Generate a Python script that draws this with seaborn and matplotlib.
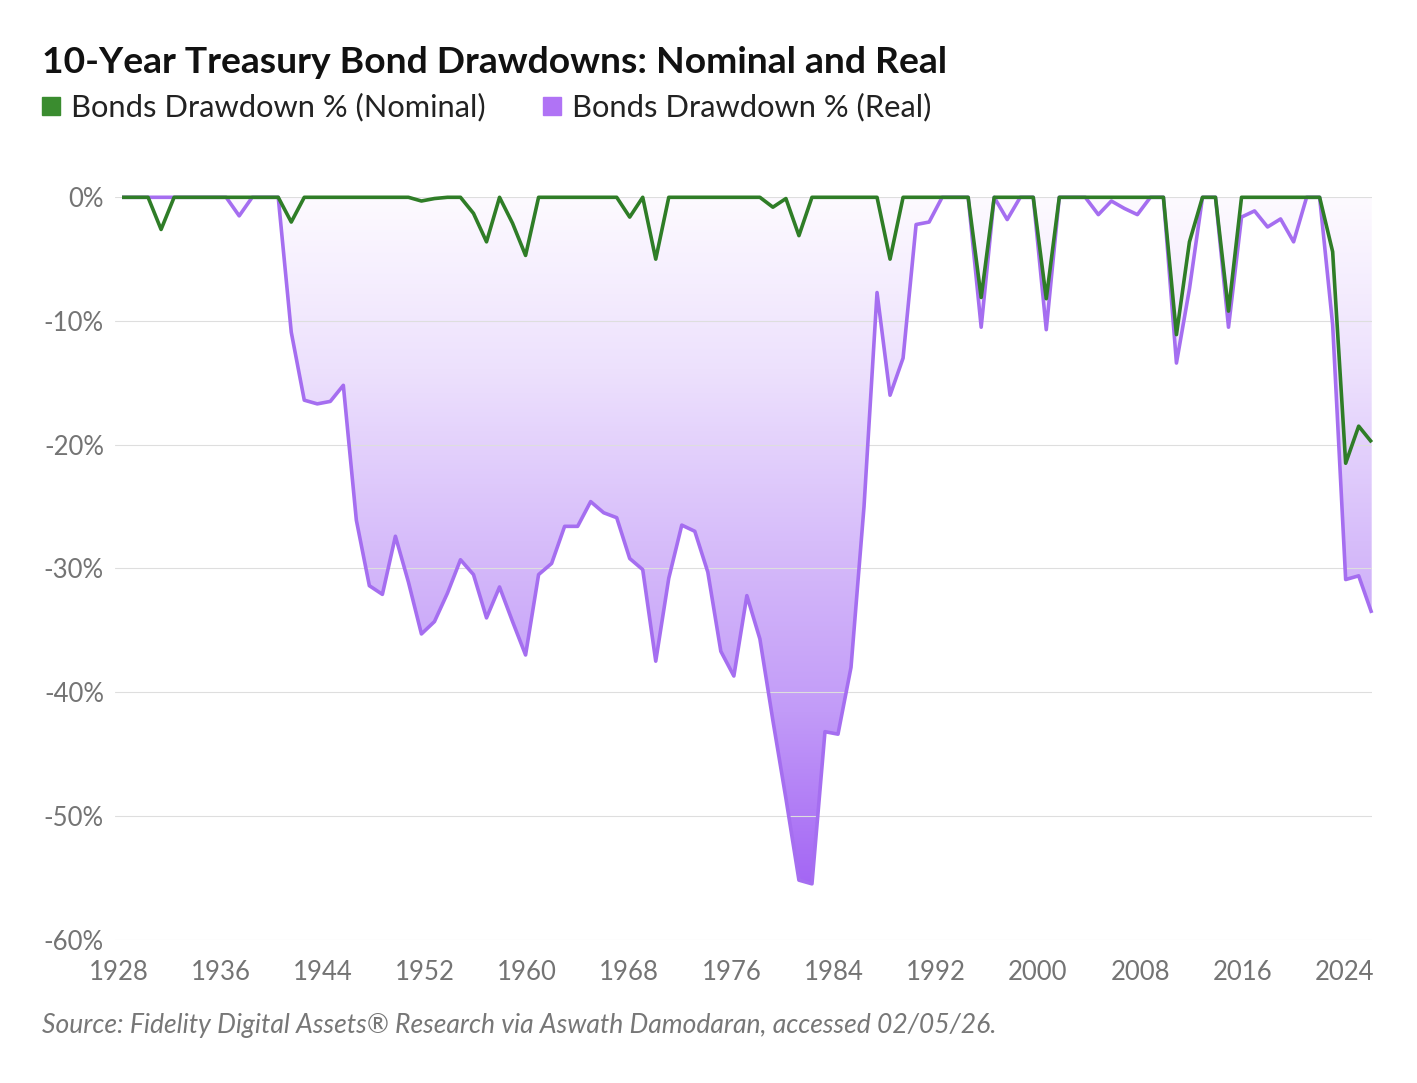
"""10-year Treasury bond drawdowns, nominal vs real."""

import matplotlib
matplotlib.use("Agg")
import matplotlib.pyplot as plt
import numpy as np
import pandas as pd
import seaborn as sns
from matplotlib.colors import LinearSegmentedColormap
from matplotlib.lines import Line2D

# --- data (% drawdown from prior peak) ---
years = list(range(1928, 2025))

nominal = [
    0, 0, 0, -2.6, 0, 0, 0, 0, 0, 0,            # 1928-1937
    0, 0, 0, -2.0, 0, 0, 0, 0, 0, 0,            # 1938-1947
    0, 0, 0, -0.3, -0.1, 0, 0, -1.3, -3.6, 0,   # 1948-1957
    -2.1, -4.7, 0, 0, 0, 0, 0, 0, 0, -1.6,      # 1958-1967
    0, -5.0, 0, 0, 0, 0, 0, 0, 0, 0,            # 1968-1977
    -0.8, -0.1, -3.1, 0, 0, 0, 0, 0, 0, -5.0,   # 1978-1987
    0, 0, 0, 0, 0, 0, -8.1, 0, 0, 0,            # 1988-1997
    0, -8.2, 0, 0, 0, 0, 0, 0, 0, 0,            # 1998-2007
    0, -11.1, -3.6, 0, 0, -9.2, 0, 0, 0, 0,     # 2008-2017
    0, 0, 0, -4.4, -21.5, -18.5, -19.8,         # 2018-2024
]

real = [
    0, 0, 0, 0, 0, 0, 0, 0, 0, -1.5,                              # 1928-1937
    0, 0, 0, -10.9, -16.4, -16.7, -16.5, -15.2, -26.1, -31.4,     # 1938-1947
    -32.1, -27.4, -31.1, -35.3, -34.3, -32.0, -29.3, -30.5, -34.0, -31.5,  # 1948-1957
    -34.3, -37.0, -30.5, -29.6, -26.6, -26.6, -24.6, -25.5, -25.9, -29.2,  # 1958-1967
    -30.1, -37.5, -30.8, -26.5, -27.0, -30.3, -36.7, -38.7, -32.2, -35.7,  # 1968-1977
    -42.3, -48.6, -55.2, -55.5, -43.2, -43.4, -38.0, -25.0, -7.7, -16.0,   # 1978-1987
    -13.0, -2.2, -2.0, 0, 0, 0, -10.5, 0, -1.8, 0,                # 1988-1997
    0, -10.7, 0, 0, 0, -1.4, -0.3, -0.9, -1.4, 0,                 # 1998-2007
    0, -13.4, -7.4, 0, 0, -10.5, -1.6, -1.1, -2.4, -1.75,         # 2008-2017
    -3.6, 0, 0, -10.3, -30.9, -30.6, -33.6,                       # 2018-2024
]

series_names = ["Bonds Drawdown % (Nominal)", "Bonds Drawdown % (Real)"]
y_ticks = [0, -10, -20, -30, -40, -50, -60]
x_tick_labels = [str(y) for y in range(1928, 2025, 8)]

title = "10-Year Treasury Bond Drawdowns: Nominal and Real"
source = "Source: Fidelity Digital Assets\u00ae Research via Aswath Damodaran, accessed 02/05/26."

GREEN = "#2f7d27"
GREEN_KEY = "#3a8c2f"
PURPLE = "#a56ef0"
PURPLE_KEY = "#b073f5"
GRID = "#dedede"
TICK = "#747474"

# --- figure setup ---
sns.set_theme(style="white")
plt.rcParams["font.family"] = ["Lato", "DejaVu Sans"]
plt.rcParams["axes.unicode_minus"] = False

W, H = 1417, 1083
fig = plt.figure(figsize=(W / 100, H / 100), dpi=100)
ax = fig.add_axes([115 / W, 1 - 939.5 / H, (1371.7 - 115) / W, (939.5 - 197.3) / H])

df = pd.DataFrame({
    "Year": years * 2,
    "Drawdown": real + nominal,
    "Series": [series_names[1]] * len(years) + [series_names[0]] * len(years),
})

# gradient fill between zero and the real drawdown curve
poly = ax.fill_between(years, real, 0, color="none", lw=0)
cmap = LinearSegmentedColormap.from_list(
    "dd", ["#a466f4", "#c29bf8", "#d7bdfa", "#ede1fd", "#fdfaff"])
grad = np.linspace(0, 1, 256)[:, None]
img = ax.imshow(grad, cmap=cmap, origin="lower", aspect="auto",
                extent=[years[0], years[-1], min(real), 0], zorder=1)
img.set_clip_path(poly.get_paths()[0], transform=ax.transData)

# lines: real first so the nominal line sits on top
sns.lineplot(data=df, x="Year", y="Drawdown", hue="Series",
             hue_order=[series_names[1], series_names[0]],
             palette={series_names[0]: GREEN, series_names[1]: PURPLE},
             linewidth=2.6, legend=False, ax=ax, zorder=4, clip_on=False,
             solid_joinstyle="round", solid_capstyle="butt")

ax.set_xlim(1927.46, 2024)
ax.set_ylim(-60, 0)

ax.set_yticks(y_ticks)
ax.set_yticklabels([f"{v}%" for v in y_ticks])
# label positions follow the reference axis
ax.set_xticks(np.linspace(1927.73, 2021.91, len(x_tick_labels)))
ax.set_xticklabels(x_tick_labels)

ax.set_axisbelow(False)
ax.grid(axis="y", color=GRID, linewidth=0.8, zorder=2)
ax.grid(axis="x", visible=False)
for s in ax.spines.values():
    s.set_visible(False)
ax.tick_params(axis="both", length=0, labelsize=18.5, labelcolor=TICK)
ax.tick_params(axis="y", pad=8)
ax.tick_params(axis="x", pad=14.5)
ax.set_xlabel("")
ax.set_ylabel("")

# --- text ---
fig.text(42 / W, 1 - 73 / H, title, fontsize=26.8, fontweight="bold",
         color="#111111", va="baseline", ha="left")

handles = [
    Line2D([], [], marker="s", linestyle="none", markersize=13, color=GREEN_KEY),
    Line2D([], [], marker="s", linestyle="none", markersize=13, color=PURPLE_KEY),
]
fig.legend(handles, series_names, loc="center left",
           bbox_to_anchor=(36 / W, 1 - 107.5 / H), ncol=2, frameon=False,
           fontsize=22.2, handletextpad=0.14, columnspacing=1.65,
           handlelength=1.0, borderpad=0, borderaxespad=0,
           labelcolor="#222222")

fig.text(42 / W, 1 - 1033 / H, source, fontsize=19.1, fontstyle="italic",
         color="#777777", va="baseline", ha="left")

fig.savefig("out.png", dpi=100)
